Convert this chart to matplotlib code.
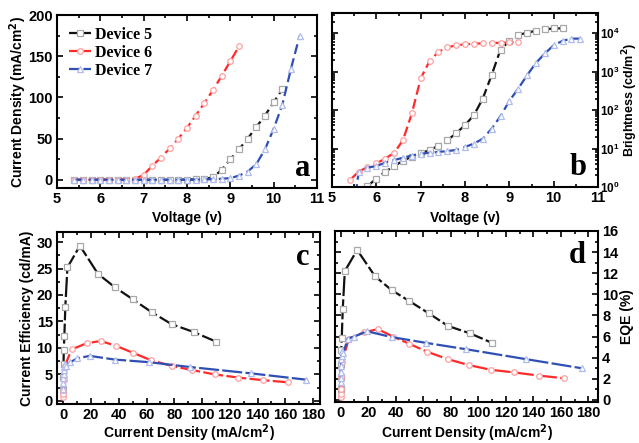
import matplotlib
matplotlib.use("Agg")
import matplotlib.pyplot as plt
from matplotlib.ticker import MultipleLocator, LogLocator, NullFormatter

plt.rcParams['font.family'] = ['Liberation Sans', 'DejaVu Sans']
plt.rcParams['font.weight'] = 'bold'
plt.rcParams['mathtext.default'] = 'bf'

labels = ["Device 5", "Device 6", "Device 7"]

# Panel a: current density vs voltage
v5 = [5.4, 5.6, 5.8, 6.0, 6.2, 6.4, 6.6, 6.8, 7.0, 7.2, 7.4, 7.6, 7.8, 8.0, 8.2, 8.4, 8.6, 8.8, 9.0, 9.2, 9.4, 9.6, 9.8, 10.0, 10.2]
j5 = [0, 0, 0, 0, 0, 0, 0, 0, 0, 0, 0, 0, 0.2, 0.3, 0.5, 1, 3, 12, 25, 37, 50, 64, 78, 94, 110]
v6 = [5.4, 5.6, 5.8, 6.0, 6.2, 6.4, 6.6, 6.8, 7.0, 7.2, 7.4, 7.6, 7.8, 8.0, 8.2, 8.4, 8.6, 8.8, 9.0, 9.2]
j6 = [0, 0, 0, 0, 0, 0, 0.3, 1, 6, 17, 27, 38, 50, 63, 78, 93, 109, 126, 144, 162]
v7 = [5.4, 5.6, 5.8, 6.0, 6.2, 6.4, 6.6, 6.8, 7.0, 7.2, 7.4, 7.6, 7.8, 8.0, 8.2, 8.4, 8.6, 8.8, 9.0, 9.2, 9.4, 9.6, 9.8, 10.0, 10.2, 10.4, 10.6]
j7 = [0, 0, 0, 0, 0, 0, 0, 0, 0, 0, 0, 0, 0, 0, 0.2, 0.4, 0.8, 1.2, 2, 5, 10, 19, 37, 62, 91, 135, 175]

# Panel b: brightness vs voltage
b5 = [0.05, 0.3, 1.05, 1.65, 2.5, 3.5, 4.8, 6.2, 7.7, 9.0, 12, 16.5, 25, 41, 74, 200, 820, 3800, 6300, 9100, 10400, 11700, 12700, 13500, 13500]
b6 = [1.5, 2.5, 3.3, 4.1, 5.5, 7.7, 16.5, 82, 670, 1900, 3300, 4300, 4900, 5200, 5400, 5500, 5600, 5700, 5800, 5900]
b7 = [0.05, 2.4, 3.2, 3.5, 4.3, 5.0, 5.8, 6.6, 7.3, 7.8, 8.2, 8.6, 9.2, 11, 13.5, 18, 33, 70, 175, 365, 815, 1700, 3000, 4900, 6400, 7300, 7300]

# Panel c: current efficiency vs current density
jc5 = [0.05, 0.1, 0.2, 0.4, 0.8, 1.5, 3, 12, 25, 37, 50, 64, 78, 94, 110]
ce5 = [2.0, 4.5, 7.0, 9.6, 12.2, 17.8, 25.2, 29.3, 24.0, 21.5, 19.2, 16.7, 14.5, 13.0, 11.2]
jc6 = [0.01, 0.03, 0.1, 0.3, 1, 6, 17, 27, 38, 50, 63, 78, 93, 109, 126, 144, 162]
ce6 = [0.8, 1.3, 2.0, 4.0, 6.5, 9.7, 10.9, 11.3, 10.4, 9.1, 7.7, 6.6, 5.8, 5.0, 4.4, 3.9, 3.5]
jc7 = [0.02, 0.05, 0.1, 0.2, 0.4, 0.8, 1.2, 2, 5, 10, 19, 37, 62, 91, 135, 175]
ce7 = [2.2, 3.4, 4.3, 5.0, 5.8, 6.3, 6.9, 6.6, 7.3, 8.0, 8.5, 7.8, 7.3, 6.4, 5.2, 4.0]

# Panel d: EQE vs current density
eqe5 = [1.0, 2.2, 3.4, 4.7, 5.9, 8.6, 12.2, 14.2, 11.7, 10.4, 9.35, 8.2, 7.0, 6.3, 5.4]
eqe6 = [0.3, 0.6, 1.0, 2.2, 3.6, 5.8, 6.4, 6.7, 6.0, 5.3, 4.55, 3.85, 3.3, 2.85, 2.6, 2.3, 2.05]
eqe7 = [1.7, 2.1, 2.6, 3.2, 3.9, 4.2, 4.6, 4.4, 5.8, 6.0, 6.5, 5.95, 5.4, 4.8, 3.85, 3.0]

colors = ['#111111', '#ff2a2a', '#2f4fb5']
mec = ['#a8a8a8', '#ffa0a0', '#b0bbee']
markers = ['s', 'o', '^']

fig = plt.figure(figsize=(6.39, 4.43), dpi=100)
axa = fig.add_axes([0.0892, 0.5756, 0.4069, 0.3905])
axb = fig.add_axes([0.5196, 0.5779, 0.4163, 0.3928])
axc = fig.add_axes([0.0892, 0.0880, 0.4116, 0.3883])
axd = fig.add_axes([0.5243, 0.0926, 0.4116, 0.3860])

ls_top = (0, (4.5, 2.0))
ls_bot = (0, (9, 1.5))

def plot_series(ax, xs, ys, ls, ms=4.0):
    for x, y, c, e, m, lab in zip(xs, ys, colors, mec, markers, labels):
        ax.plot(x, y, color=c, linestyle=ls, lw=1.6, marker=m, ms=ms,
                mfc='white', mec=e, mew=0.9, label=lab)

plot_series(axa, [v5, v6, v7], [j5, j6, j7], ls_top)
plot_series(axb, [v5, v6, v7], [b5, b6, b7], ls_top)
plot_series(axc, [jc5, jc6, jc7], [ce5, ce6, ce7], ls_bot)
plot_series(axd, [jc5, jc6, jc7], [eqe5, eqe6, eqe7], ls_bot)

for ax in (axa, axb, axc, axd):
    for s in ax.spines.values():
        s.set_linewidth(1.5)
    ax.tick_params(which='both', direction='in', top=True, right=True, width=1.2)
    ax.tick_params(which='major', length=4, labelsize=10.5, pad=3)
    ax.tick_params(which='minor', length=2.5)

lab_kw = dict(fontsize=10, fontweight='bold')

# Panel a
axa.set_xlim(5, 11)
axa.set_ylim(-10, 200)
axa.xaxis.set_major_locator(MultipleLocator(1))
axa.xaxis.set_minor_locator(MultipleLocator(0.5))
axa.yaxis.set_major_locator(MultipleLocator(50))
axa.yaxis.set_minor_locator(MultipleLocator(25))
axa.set_xlabel('Voltage (v)', va='center', ha='center', **lab_kw)
axa.xaxis.set_label_coords(0.5, -0.173)
axa.set_ylabel('Current Density (mA/cm$^\\mathbf{2}$)', va='center', ha='center', **lab_kw)
axa.yaxis.set_label_coords(-0.15, 0.5)
axa.legend(loc='upper left', frameon=False,
           prop={'family': 'Liberation Serif', 'weight': 'bold', 'size': 11.5},
           handlelength=1.4, handletextpad=0.25, labelspacing=0.12, borderaxespad=0.35)

# Panel b
axb.set_yscale('log')
axb.set_xlim(5, 11)
axb.set_ylim(1, 3.4e4)
axb.xaxis.set_major_locator(MultipleLocator(1))
axb.xaxis.set_minor_locator(MultipleLocator(0.5))
axb.yaxis.set_major_locator(LogLocator(base=10, numticks=10))
axb.yaxis.set_minor_locator(LogLocator(base=10, subs=[2, 3, 4, 5, 6, 7, 8, 9], numticks=10))
axb.yaxis.set_minor_formatter(NullFormatter())
axb.yaxis.tick_right()
axb.tick_params(which='both', left=True, labelleft=False, labelright=True)
axb.tick_params(axis='y', which='major', pad=1.5, labelsize=8.5)
axb.set_xlabel('Voltage (v)', va='center', ha='center', **lab_kw)
axb.xaxis.set_label_coords(0.5, -0.178)
axb.yaxis.set_label_position('right')
axb.set_ylabel('Brightness (cd/m$^\\mathbf{2}$)', va='center', ha='center', rotation=90,
               fontsize=9, fontweight='bold')
axb.yaxis.set_label_coords(1.12, 0.5)

# Panel c
axc.set_xlim(-4.5, 185)
axc.set_ylim(-0.6, 31.9)
axc.xaxis.set_major_locator(MultipleLocator(20))
axc.xaxis.set_minor_locator(MultipleLocator(10))
axc.yaxis.set_major_locator(MultipleLocator(5))
axc.yaxis.set_minor_locator(MultipleLocator(2.5))
axc.set_xlabel('Current Density (mA/cm$^\\mathbf{2}$)', va='center', ha='center', **lab_kw)
axc.xaxis.set_label_coords(0.5, -0.172)
axc.set_ylabel('Current Efficiency (cd/mA)', va='center', ha='center', **lab_kw)
axc.yaxis.set_label_coords(-0.114, 0.5)

# Panel d
axd.set_xlim(-4.1, 187)
axd.set_ylim(-0.2, 16)
axd.xaxis.set_major_locator(MultipleLocator(20))
axd.xaxis.set_minor_locator(MultipleLocator(10))
axd.yaxis.set_major_locator(MultipleLocator(2))
axd.yaxis.set_minor_locator(MultipleLocator(1))
axd.yaxis.tick_right()
axd.tick_params(which='both', left=True, labelleft=False, labelright=True)
axd.set_xlabel('Current Density (mA/cm$^\\mathbf{2}$)', va='center', ha='center', **lab_kw)
axd.xaxis.set_label_coords(0.5, -0.185)
axd.yaxis.set_label_position('right')
axd.set_ylabel('EQE (%)', va='center', ha='center', rotation=90, **lab_kw)
axd.yaxis.set_label_coords(1.11, 0.5)

for ax in (axa, axb, axc, axd):
    for lab in ax.get_xticklabels() + ax.get_yticklabels():
        lab.set_fontweight('bold')

letter_font = dict(family='Liberation Serif', fontsize=22, fontweight='bold', ha='right', va='baseline')
axa.text(0.975, 0.07, 'a', transform=axa.transAxes, **letter_font)
axb.text(0.955, 0.07, 'b', transform=axb.transAxes, **letter_font)
axc.text(0.96, 0.81, 'c', transform=axc.transAxes, **letter_font)
axd.text(0.955, 0.81, 'd', transform=axd.transAxes, **letter_font)

fig.savefig('out.png', dpi=100)
